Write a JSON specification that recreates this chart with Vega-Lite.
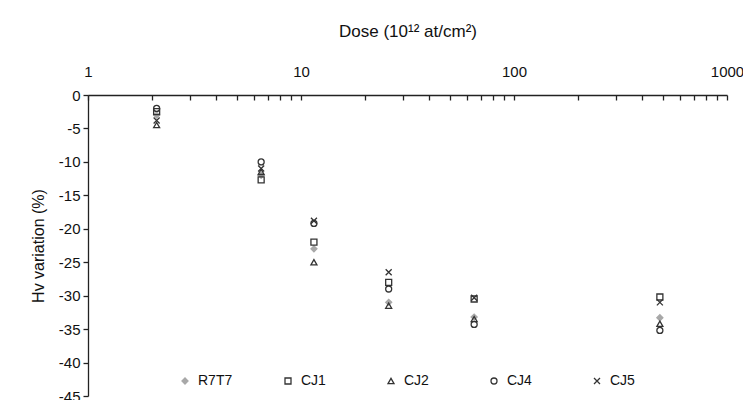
{
  "$schema": "https://vega.github.io/schema/vega-lite/v6.json",
  "autosize": "none",
  "width": 639,
  "height": 301,
  "padding": {"left": 88, "top": 95, "right": 16, "bottom": 4},
  "background": "white",
  "config": {
    "view": {"stroke": null},
    "font": "Liberation Sans",
    "axis": {"grid": false, "domainColor": "#222", "tickColor": "#222", "labelColor": "#111", "titleColor": "#111", "labelFont": "Liberation Sans", "titleFont": "Liberation Sans", "titleFontWeight": "normal", "domainWidth": 1.3, "tickWidth": 1.3}
  },
  "data": {
    "values": [
      {"dose": 2.1, "hv": -3.0, "series": "R7T7"},
      {"dose": 2.1, "hv": -2.5, "series": "CJ1"},
      {"dose": 2.1, "hv": -4.5, "series": "CJ2"},
      {"dose": 2.1, "hv": -2.0, "series": "CJ4"},
      {"dose": 2.1, "hv": -3.8, "series": "CJ5"},
      {"dose": 6.5, "hv": -12.0, "series": "R7T7"},
      {"dose": 6.5, "hv": -12.7, "series": "CJ1"},
      {"dose": 6.5, "hv": -11.5, "series": "CJ2"},
      {"dose": 6.5, "hv": -10.0, "series": "CJ4"},
      {"dose": 6.5, "hv": -11.0, "series": "CJ5"},
      {"dose": 11.5, "hv": -23.0, "series": "R7T7"},
      {"dose": 11.5, "hv": -22.0, "series": "CJ1"},
      {"dose": 11.5, "hv": -25.0, "series": "CJ2"},
      {"dose": 11.5, "hv": -19.2, "series": "CJ4"},
      {"dose": 11.5, "hv": -18.8, "series": "CJ5"},
      {"dose": 25.8, "hv": -31.0, "series": "R7T7"},
      {"dose": 25.8, "hv": -28.0, "series": "CJ1"},
      {"dose": 25.8, "hv": -31.5, "series": "CJ2"},
      {"dose": 25.8, "hv": -29.0, "series": "CJ4"},
      {"dose": 25.8, "hv": -26.5, "series": "CJ5"},
      {"dose": 65, "hv": -33.2, "series": "R7T7"},
      {"dose": 65, "hv": -30.5, "series": "CJ1"},
      {"dose": 65, "hv": -33.5, "series": "CJ2"},
      {"dose": 65, "hv": -34.3, "series": "CJ4"},
      {"dose": 65, "hv": -30.3, "series": "CJ5"},
      {"dose": 484, "hv": -33.3, "series": "R7T7"},
      {"dose": 484, "hv": -30.2, "series": "CJ1"},
      {"dose": 484, "hv": -34.2, "series": "CJ2"},
      {"dose": 484, "hv": -35.2, "series": "CJ4"},
      {"dose": 484, "hv": -31.0, "series": "CJ5"}
    ]
  },
  "mark": {"type": "point", "strokeWidth": 1.3, "size": 36, "opacity": 1},
  "encoding": {
    "x": {
      "field": "dose", "type": "quantitative",
      "scale": {"type": "log", "domain": [1, 1000], "nice": false},
      "axis": {
        "orient": "top",
        "title": "Dose (10¹² at/cm²)",
        "titleFontSize": 17,
        "titlePadding": 24,
        "labelFontSize": 15,
        "labelPadding": 21,
        "tickSize": -5,
        "values": [1,2,3,4,5,6,7,8,9,10,20,30,40,50,60,70,80,90,100,200,300,400,500,600,700,800,900,1000],
        "labelExpr": "datum.value == 1 || datum.value == 10 || datum.value == 100 || datum.value == 1000 ? '' + datum.value : ''",
        "labelFlush": false,
        "labelOverlap": false
      }
    },
    "y": {
      "field": "hv", "type": "quantitative",
      "scale": {"domain": [-45, 0], "nice": false, "zero": false},
      "axis": {
        "orient": "left",
        "title": "Hv variation (%)",
        "titleFontSize": 16,
        "titlePadding": 12,
        "labelFontSize": 15,
        "labelPadding": 3,
        "tickSize": 5,
        "values": [0,-5,-10,-15,-20,-25,-30,-35,-40,-45],
        "labelExpr": "'' + datum.value",
        "labelFlush": false,
        "labelOverlap": false
      }
    },
    "shape": {
      "field": "series", "type": "nominal",
      "scale": {"domain": ["R7T7","CJ1","CJ2","CJ4","CJ5"], "range": ["diamond","square","triangle-up","circle","M-1,-1L1,1M-1,1L1,-1"]},
      "legend": {
        "orient": "none", "legendX": 90, "legendY": 279, "direction": "horizontal",
        "title": null, "columns": 5, "gridAlign": "all", "columnPadding": 48,
        "labelFontSize": 14, "labelFont": "Liberation Sans", "labelColor": "#111",
        "symbolSize": 36, "symbolStrokeWidth": 1.3, "labelOffset": 6
      }
    },
    "fill": {
      "field": "series", "type": "nominal",
      "scale": {"domain": ["R7T7","CJ1","CJ2","CJ4","CJ5"], "range": ["#a8a8a8","transparent","transparent","transparent","transparent"]},
      "legend": null
    },
    "stroke": {
      "field": "series", "type": "nominal",
      "scale": {"domain": ["R7T7","CJ1","CJ2","CJ4","CJ5"], "range": ["#a8a8a8","#333333","#333333","#333333","#333333"]},
      "legend": null
    }
  }
}
